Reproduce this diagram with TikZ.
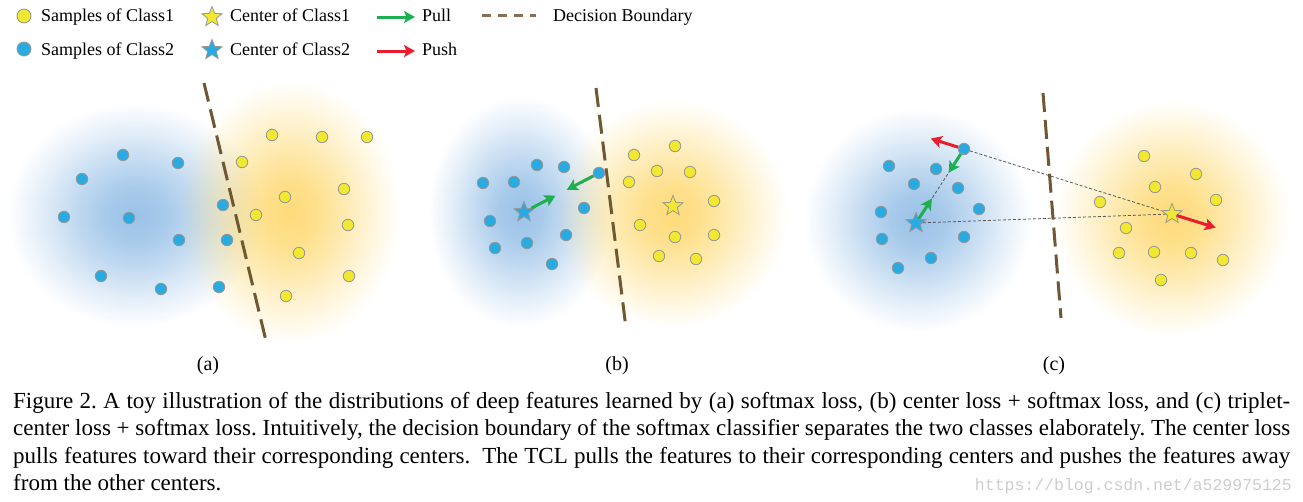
\documentclass[tikz,border=0pt]{standalone}
\usepackage{fontspec}
\setmainfont{Liberation Serif}
\setmonofont{Liberation Mono}
\usetikzlibrary{shapes.geometric,arrows.meta,fadings,calc}

\definecolor{dotblue}{RGB}{41,171,226}
\definecolor{dotyellow}{RGB}{242,232,50}
\definecolor{dotedge}{RGB}{150,150,150}
\definecolor{glowblue}{RGB}{115,170,222}
\definecolor{glowyellow}{RGB}{253,205,70}
\definecolor{pullgreen}{RGB}{30,175,80}
\definecolor{pushred}{RGB}{235,28,45}
\definecolor{boundbrown}{RGB}{112,88,50}
\definecolor{markgray}{RGB}{205,205,205}

\pgfdeclareradialshading{glowshade}{\pgfpointorigin}{color(0bp)=(pgftransparent!28); color(6bp)=(pgftransparent!38); color(12bp)=(pgftransparent!57); color(18bp)=(pgftransparent!78); color(23bp)=(pgftransparent!94); color(25bp)=(pgftransparent!100); color(50bp)=(pgftransparent!100)}
\pgfdeclarefading{glowfade}{\pgfuseshading{glowshade}}

\tikzset{
  bdot/.style={circle, fill=dotblue, draw=dotedge, line width=0.8pt, minimum size=11.5pt, inner sep=0pt},
  ydot/.style={circle, fill=dotyellow, draw=dotedge, line width=0.8pt, minimum size=11.5pt, inner sep=0pt},
  bstarnode/.style={star, star points=5, star point ratio=2.3, fill=dotblue, draw=dotedge, line width=0.8pt, minimum size=21pt, inner sep=0pt},
  ystarnode/.style={star, star points=5, star point ratio=2.3, fill=dotyellow, draw=dotedge, line width=0.8pt, minimum size=21pt, inner sep=0pt},
  pullarrow/.style={draw=pullgreen, line width=3pt, -{Stealth[length=11pt,width=12pt,inset=2.5pt]}},
  pusharrow/.style={draw=pushred, line width=3pt, -{Stealth[length=11pt,width=12pt,inset=2.5pt]}},
  boundary/.style={draw=boundbrown, line width=3pt, dash pattern=on 19pt off 8pt},
  legboundary/.style={draw=boundbrown!85, line width=3pt, dash pattern=on 9pt off 7pt},
  tieline/.style={draw=black!65, line width=0.8pt, dash pattern=on 3pt off 2pt},
  glowb/.style={fill=glowblue, path fading=glowfade},
  glowy/.style={fill=glowyellow, path fading=glowfade},
  legtext/.style={anchor=base west, inner sep=0pt, font=\fontsize{18}{21}\selectfont},
  sublabel/.style={anchor=base, inner sep=0pt, font=\fontsize{20}{24}\selectfont},
  capline/.style={anchor=base west, inner sep=0pt, font=\fontsize{23}{27.5}\selectfont\frenchspacing},
}

\begin{document}
\begin{tikzpicture}[x=1pt,y=-1pt]
\useasboundingbox (0,0) rectangle (1303,501);

% ---------------- glows ----------------
\fill[glowb] (135,215) ellipse [x radius=128pt, y radius=112pt];
\fill[glowy] (290,212) ellipse [x radius=110pt, y radius=132pt];
\fill[glowb] (520,212) ellipse [x radius=92pt, y radius=116pt];
\fill[glowy] (672,214) ellipse [x radius=116pt, y radius=114pt];
\fill[glowb] (918,220) ellipse [x radius=114pt, y radius=112pt];
\fill[glowy] (1172,218) ellipse [x radius=118pt, y radius=118pt];

% ---------------- boundaries ----------------
\coordinate (aTop) at (204,83);  \coordinate (aBot) at (267,345);
\coordinate (bTop) at (596,88);  \coordinate (bBot) at (626,328);
\coordinate (cTop) at (1043,93); \coordinate (cBot) at (1061,318);
\draw[boundary] (aTop) -- (aBot);
\draw[boundary] (bTop) -- (bBot);
\draw[boundary] (cTop) -- (cBot);

% ---------------- panel (a) ----------------
\foreach \x/\y [count=\i] in {123/155,178/163,82/179,64/217,129/218,223/205,179/240,227/240,101/276,161/289,219/287}
  \node[bdot] (ab\i) at (\x,\y) {};
\foreach \x/\y [count=\i] in {272/135,322/137,367/137,242/162,344/189,285/197,256/215,348/225,299/253,349/276,286/296}
  \node[ydot] (ay\i) at (\x,\y) {};
\node[sublabel] (alabel) at (208,370) {(a)};

% ---------------- panel (b) ----------------
\foreach \x/\y [count=\i] in {483/183,514/182,537/165,564/167,599/173,584/208,490/221,566/235,527/243,495/248,552/264}
  \node[bdot] (bb\i) at (\x,\y) {};
\foreach \x/\y [count=\i] in {675/146,634/155,657/171,690/172,629/182,714/201,640/225,675/237,714/235,659/256,696/259}
  \node[ydot] (by\i) at (\x,\y) {};
\node[bstarnode] (bbs) at (524,212) {};
\node[ystarnode] (bys) at (673,206) {};
\coordinate (bm1) at ($(bbs)!0.42!(bb5)$);
\coordinate (bm2) at ($(bbs)!0.57!(bb5)$);
\draw[pullarrow] (bbs) -- (bm1);
\draw[pullarrow] (bb5) -- (bm2);
\node[sublabel] (blabel) at (617,370) {(b)};

% ---------------- panel (c) ----------------
\foreach \x/\y [count=\i] in {964/149,889/166,936/169,914/184,958/188,881/212,979/209,882/239,964/237,931/258,898/268}
  \node[bdot] (cb\i) at (\x,\y) {};
\foreach \x/\y [count=\i] in {1144/156,1196/174,1155/187,1100/202,1216/200,1126/228,1119/253,1154/252,1191/253,1223/260,1161/280}
  \node[ydot] (cy\i) at (\x,\y) {};
\node[bstarnode] (cbs) at (916,223) {};
\node[ystarnode] (cys) at (1172,214) {};
\draw[tieline] (cb1) -- (cys);
\draw[tieline] (cbs) -- (cys);
\draw[tieline] (cbs) -- (cb1);
\coordinate (cm1) at ($(cbs)!0.33!(cb1)$);
\coordinate (cm2) at ($(cbs)!0.68!(cb1)$);
\coordinate (cpush1) at ($(cb1)!-0.16!(cys)$);
\coordinate (cpush2) at ($(cys)!-0.21!(cb1)$);
\draw[pullarrow] (cbs) -- (cm1);
\draw[pullarrow] (cb1) -- (cm2);
\draw[pusharrow] (cb1) -- (cpush1);
\draw[pusharrow] (cys) -- (cpush2);
\node[sublabel] (clabel) at (1054,370) {(c)};

% ---------------- legend ----------------
\node[ydot, minimum size=14pt] (lyd) at (24,16) {};
\node[bdot, minimum size=14pt] (lbd) at (24,49) {};
\node[legtext] (lt1) at (41,21) {Samples of Class1};
\node[legtext] (lt2) at (41,55) {Samples of Class2};
\node[ystarnode] (lys) at (212,17) {};
\node[bstarnode] (lbs) at (212,50) {};
\node[legtext] (lt3) at (230,21) {Center of Class1};
\node[legtext] (lt4) at (230,55) {Center of Class2};
\coordinate (lpullA) at (377,17); \coordinate (lpullB) at (415,17);
\coordinate (lpushA) at (377,51); \coordinate (lpushB) at (415,51);
\draw[pullarrow] (lpullA) -- (lpullB);
\draw[pusharrow] (lpushA) -- (lpushB);
\node[legtext] (lt5) at (422,21) {Pull};
\node[legtext] (lt6) at (422,55) {Push};
\coordinate (ldashA) at (482,15); \coordinate (ldashB) at (536,15);
\draw[legboundary] (ldashA) -- (ldashB);
\node[legtext] (lt7) at (553,21) {Decision Boundary};

% ---------------- caption ----------------
\node[capline] (cap1) at (13,408) {\makebox[1277pt][s]{Figure 2. A toy illustration of the distributions of deep features learned by (a) softmax loss, (b) center loss + softmax loss, and (c) triplet-}};
\node[capline] (cap2) at (13,435.5) {\makebox[1277pt][s]{center loss + softmax loss. Intuitively, the decision boundary of the softmax classifier separates the two classes elaborately. The center loss}};
\node[capline] (cap3) at (13,463) {\makebox[1277pt][s]{pulls features toward their corresponding centers.\hspace{0.25em} The TCL pulls the features to their corresponding centers and pushes the features away}};
\node[capline] (cap4) at (13,490.5) {from the other centers.};
\node[anchor=base east, inner sep=0pt, text=markgray, font=\ttfamily\fontsize{16.5}{20}\selectfont] (wm) at (1292,490.5) {https://blog.csdn.net/a529975125};
\end{tikzpicture}
\end{document}
